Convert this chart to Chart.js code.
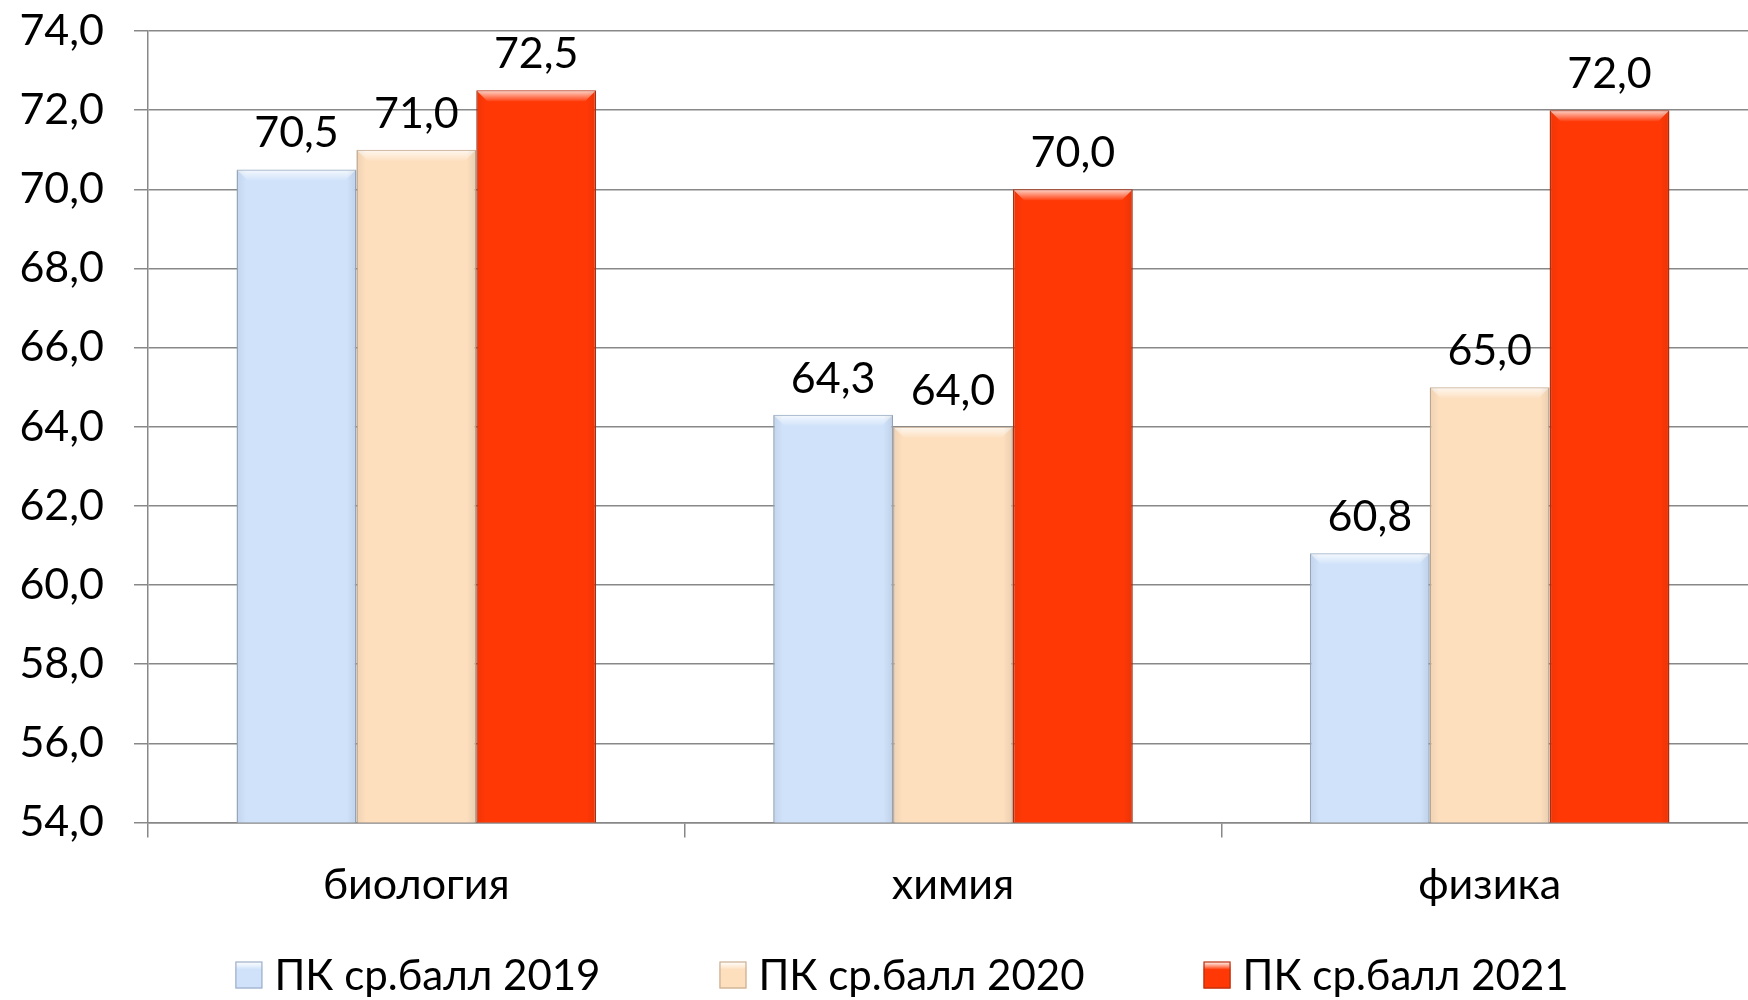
<!DOCTYPE html>
<html>
<head>
<meta charset="utf-8">
<script src="https://cdn.jsdelivr.net/npm/chart.js@4/dist/chart.umd.min.js"></script>
<style>
html,body{margin:0;padding:0;background:#fff;overflow:hidden;}
#wrap{width:1748px;height:1000px;overflow:hidden;}
canvas{display:block;}
</style>
</head>
<body>
<div id="wrap"><canvas id="c" width="1758" height="1000"></canvas></div>
<script>
const categories = ['биология', 'химия', 'физика'];
const seriesNames = ['ПК ср.балл 2019', 'ПК ср.балл 2020', 'ПК ср.балл 2021'];
const values2019 = [70.5, 64.3, 60.8];
const values2020 = [71.0, 64.0, 65.0];
const values2021 = [72.5, 70.0, 72.0];
const yMin = 54, yMax = 74, yStep = 2;

const FONT = 'Lato, "Open Sans", "Noto Sans", sans-serif';
const fmt = v => v.toFixed(1).replace('.', ',');

const fills = ['#CFE2FA', '#FDDFBE', '#FF3806'];
const borders = ['#9DB0C8', '#C9AE92', '#B83010'];

const labelPlugin = {
  id: 'valueLabels',
  afterDatasetsDraw(chart) {
    const ctx = chart.ctx;
    ctx.save();
    ctx.font = '43px ' + FONT;
    ctx.fillStyle = '#000';
    ctx.textAlign = 'center';
    ctx.textBaseline = 'alphabetic';
    chart.data.datasets.forEach((ds, i) => {
      const meta = chart.getDatasetMeta(i);
      meta.data.forEach((bar, j) => {
        ctx.fillText(fmt(ds.data[j]), bar.x, bar.y - 22);
      });
    });
    ctx.restore();
  }
};

const bevelPlugin = {
  id: 'bevel',
  afterDatasetsDraw(chart) {
    const ctx = chart.ctx;
    const bottom = chart.chartArea.bottom;
    ctx.save();
    chart.data.datasets.forEach((ds, i) => {
      const meta = chart.getDatasetMeta(i);
      meta.data.forEach(bar => {
        const l = bar.x - bar.width / 2, r = bar.x + bar.width / 2, t = bar.y;
        const g = ctx.createLinearGradient(0, t, 0, t + 11);
        g.addColorStop(0, 'rgba(255,255,255,0.8)');
        g.addColorStop(1, 'rgba(255,255,255,0.05)');
        ctx.fillStyle = g;
        ctx.beginPath();
        ctx.moveTo(l + 1, t + 1);
        ctx.lineTo(r - 1, t + 1);
        ctx.lineTo(r - 11, t + 11);
        ctx.lineTo(l + 11, t + 11);
        ctx.closePath();
        ctx.fill();
        const gs = ctx.createLinearGradient(l, 0, r, 0);
        gs.addColorStop(0, 'rgba(0,0,0,0.06)');
        gs.addColorStop(0.08, 'rgba(0,0,0,0)');
        gs.addColorStop(0.92, 'rgba(0,0,0,0)');
        gs.addColorStop(1, 'rgba(0,0,0,0.08)');
        ctx.fillStyle = gs;
        ctx.fillRect(l, t + 1, r - l, bottom - t - 1);
      });
    });
    ctx.restore();
  }
};

const customLegend = {
  id: 'customLegend',
  afterDraw(chart) {
    const ctx = chart.ctx;
    ctx.save();
    ctx.font = '42px ' + FONT;
    ctx.textBaseline = 'middle';
    ctx.textAlign = 'left';
    const box = 27, gap = 12, spacing = 119;
    const items = chart.data.datasets.map((ds, i) => ({ text: ds.label, w: ctx.measureText(ds.label).width, i }));
    const total = items.reduce((s, it) => s + box + gap + it.w, 0) + spacing * (items.length - 1);
    const cy = 975;
    let x = chart.width / 2 + 23 - total / 2;
    items.forEach(it => {
      const by = cy - box / 2;
      const g = ctx.createLinearGradient(0, by, 0, by + box);
      g.addColorStop(0, 'rgba(255,255,255,0.9)');
      g.addColorStop(0.3, fills[it.i]);
      g.addColorStop(1, fills[it.i]);
      ctx.fillStyle = g;
      ctx.fillRect(x, by, box, box);
      ctx.strokeStyle = borders[it.i];
      ctx.lineWidth = 1.2;
      ctx.strokeRect(x + 0.5, by + 0.5, box - 1, box - 1);
      ctx.fillStyle = '#000';
      ctx.fillText(it.text, x + box + gap, cy + 1);
      x += box + gap + it.w + spacing;
    });
    ctx.restore();
  }
};

function mkDs(i, data) {
  return {
    label: seriesNames[i],
    data: data,
    backgroundColor: fills[i],
    borderColor: borders[i],
    borderWidth: 1.5,
    borderSkipped: 'bottom',
    barPercentage: 1.0,
    categoryPercentage: 0.67
  };
}

new Chart(document.getElementById('c'), {
  type: 'bar',
  data: {
    labels: categories,
    datasets: [mkDs(0, values2019), mkDs(1, values2020), mkDs(2, values2021)]
  },
  plugins: [bevelPlugin, labelPlugin, customLegend],
  options: {
    responsive: false,
    animation: false,
    devicePixelRatio: 1,
    layout: { padding: { top: 0, right: 0, left: 0, bottom: 67 } },
    plugins: {
      tooltip: { enabled: false },
      legend: { display: false }
    },
    scales: {
      x: {
        grid: { drawOnChartArea: false, drawTicks: true, tickLength: 15, color: '#888', lineWidth: 1.5 },
        border: { display: true, color: '#888', width: 1.5 },
        ticks: { font: { family: FONT, size: 43 }, color: '#000', padding: 22 }
      },
      y: {
        min: yMin,
        max: yMax,
        afterFit(scale) { scale.width = 148; scale.paddingTop = 31; scale.paddingBottom = 0; },
        grid: { color: '#888', lineWidth: 1.5, tickLength: 14 },
        border: { display: true, color: '#888', width: 1.5 },
        ticks: {
          stepSize: yStep,
          font: { family: FONT, size: 43 },
          color: '#000',
          padding: 30,
          callback: v => fmt(v)
        }
      }
    }
  }
});
</script>
</body>
</html>
